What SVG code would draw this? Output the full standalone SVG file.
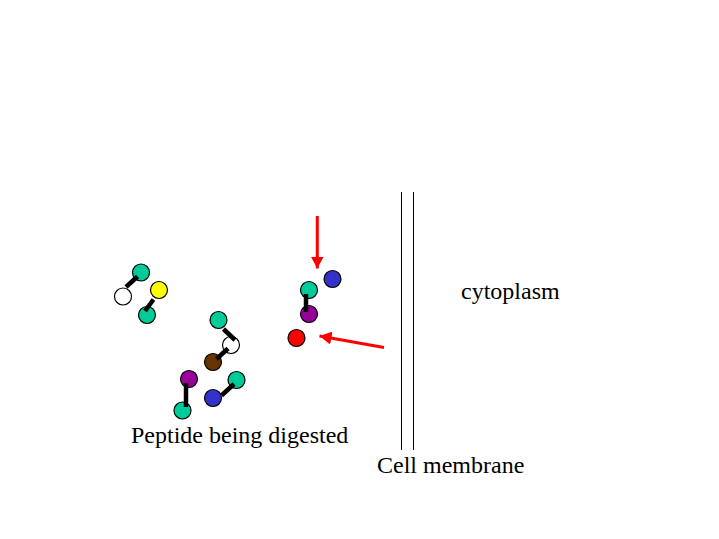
<svg xmlns="http://www.w3.org/2000/svg" width="719" height="539" viewBox="0 0 719 539">
<style>
.a{stroke:#000;stroke-width:1.2}
.b{stroke:#000;stroke-width:4.5;stroke-linecap:butt}
.t{font-family:"Liberation Serif",serif;font-size:24px;fill:#000}
.teal{fill:#00CC99}.wh{fill:#fff}.ye{fill:#FFFF00}.pu{fill:#990099}.br{fill:#663300}.bl{fill:#3333CC}.rd{fill:#FF0000}
.m{stroke:#000;stroke-width:1}
.ar{stroke:#FF0000;stroke-width:3}
</style>
<defs>
<marker id="ah" markerWidth="12" markerHeight="13" refX="12" refY="6.5" orient="auto" markerUnits="userSpaceOnUse">
<path d="M0,0 L12,6.5 L0,13 Z" fill="#FF0000"/>
</marker>
</defs>
<rect width="719" height="539" fill="#fff"/>
<g id="membrane">
<line class="m" x1="401.5" y1="192" x2="401.5" y2="450"/>
<line class="m" x1="413.5" y1="192" x2="413.5" y2="450"/>
</g>
<g id="molecules">
<circle class="a teal" cx="141" cy="272.5" r="8.5"/>
<circle class="a wh" cx="123" cy="296.5" r="8.5"/>
<circle class="a ye" cx="159" cy="290" r="8.5"/>
<circle class="a teal" cx="147" cy="315" r="8.5"/>
<circle class="a teal" cx="218.5" cy="320" r="8.5"/>
<circle class="a wh" cx="231" cy="345" r="8.5"/>
<circle class="a br" cx="213" cy="362" r="8.5"/>
<circle class="a pu" cx="189" cy="379" r="8.5"/>
<circle class="a teal" cx="182.5" cy="410.5" r="8.5"/>
<circle class="a teal" cx="236.5" cy="380" r="8.5"/>
<circle class="a bl" cx="213" cy="398" r="8.5"/>
<circle class="a bl" cx="332.5" cy="279" r="8.5"/>
<circle class="a teal" cx="309" cy="290" r="8.5"/>
<circle class="a pu" cx="309" cy="314" r="8.5"/>
<circle class="a rd" cx="296.5" cy="338" r="8.5"/>
</g>
<g id="bonds">
<line class="b" x1="137.5" y1="276.5" x2="126" y2="287"/>
<line class="b" x1="153.5" y1="299.5" x2="145" y2="311"/>
<line class="b" x1="223.5" y1="329" x2="235" y2="340"/>
<line class="b" x1="228" y1="348.5" x2="216.5" y2="359"/>
<line class="b" x1="186" y1="383" x2="186" y2="407"/>
<line class="b" x1="234" y1="384" x2="221.5" y2="395.5"/>
<line class="b" x1="306" y1="294" x2="306" y2="312"/>
</g>
<g id="arrows">
<line class="ar" x1="317.3" y1="216" x2="317.3" y2="268.5" marker-end="url(#ah)"/>
<line class="ar" x1="384" y1="347.5" x2="319.5" y2="336" marker-end="url(#ah)"/>
</g>
<g id="labels">
<text class="t" x="461" y="299">cytoplasm</text>
<text class="t" x="131" y="443">Peptide being digested</text>
<text class="t" x="377" y="473">Cell membrane</text>
</g>
</svg>
